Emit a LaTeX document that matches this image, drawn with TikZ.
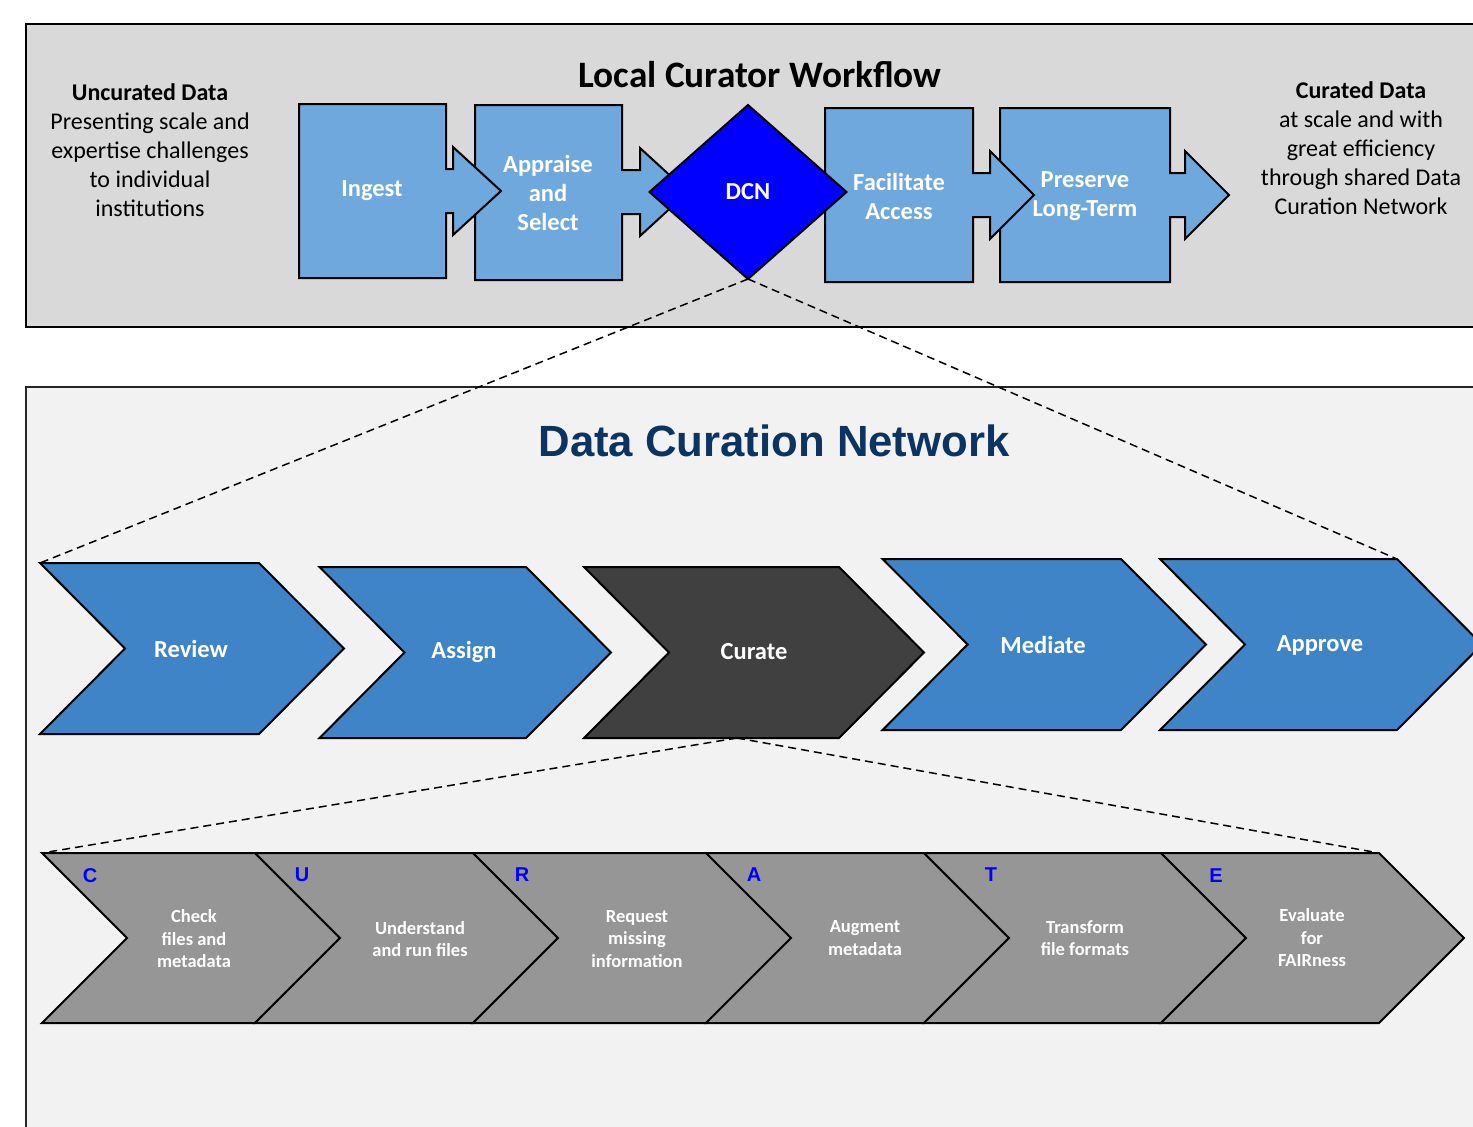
\documentclass[tikz,border=0pt]{standalone}
\usepackage{fontspec}
\setmainfont{Carlito}
\newfontfamily\headfont{Liberation Sans}
\usepackage{tikz}
\usetikzlibrary{shapes.geometric}

\definecolor{topgray}{RGB}{217,217,217}
\definecolor{lowgray}{RGB}{242,242,242}
\definecolor{boxblue}{RGB}{111,168,220}
\definecolor{stepblue}{RGB}{62,132,198}
\definecolor{curategray}{RGB}{64,64,64}
\definecolor{subgray}{RGB}{150,150,150}
\definecolor{dcnnavy}{RGB}{12,52,96}

% rectangle with an arrow tab on its right side
\newcommand{\tabbox}[7]{%
  \draw[blockline, fill=boxblue] (#1,#2) -- (#3,#2) -- (#3,{#7-22}) -- (#5,{#7-22}) -- (#5,{#7-44})
    -- (#6,#7) -- (#5,{#7+44}) -- (#5,{#7+22}) -- (#3,{#7+22}) -- (#3,#4) -- (#1,#4) -- cycle;}
% chevron: left x, top y, right x, bottom y
\newcommand{\chevronpath}[5]{%
  \draw[#1] (#2,#3) -- (#4,#3) -- ({#4+85},{(#3+#5)/2}) -- (#4,#5) -- (#2,#5)
    -- ({#2+85},{(#3+#5)/2}) -- cycle;}

\begin{document}
\begin{tikzpicture}[x=1pt, y=-1pt,
  blockline/.style={draw=black, line width=2pt},
  blocktext/.style={text=white, font=\bfseries\fontsize{24.5}{29}\selectfont, align=center},
  steptext/.style={text=white, font=\bfseries\fontsize{24.5}{28}\selectfont},
  subtext/.style={text=white, font=\bfseries\fontsize{18.5}{22.5}\selectfont, align=center},
  letter/.style={text=blue, font=\headfont\bfseries\fontsize{20}{20}\selectfont},
  sidetext/.style={text=black, font=\fontsize{24}{29}\selectfont, align=center},
  zoomline/.style={draw=black, dash pattern=on 8pt off 5pt, line width=1.5pt}]
  \useasboundingbox (0,0) rectangle (1473,1127);
  \clip (0,0) rectangle (1473,1127);
  \fill[white] (0,0) rectangle (1473,1127);

  % frames
  \draw[fill=topgray, line width=2pt] (26,24) rectangle (1495,327);
  \draw[fill=lowgray, draw=black!85, line width=1.5pt] (26,387) rectangle (1495,1145);

  % local workflow
  \node[font=\bfseries\fontsize{37.3}{40}\selectfont] (localtitle) at (760,75) {Local Curator Workflow};
  \node[sidetext] (uncurated) at (150,150) {\textbf{Uncurated Data}\\Presenting scale and\\expertise challenges\\to individual\\institutions};
  \node[sidetext] (curated) at (1361,148) {\textbf{Curated Data}\\at scale and with\\great efficiency\\through shared Data\\Curation Network};

  \tabbox{1000}{108}{1170}{282}{1185}{1229}{195}
  \tabbox{825}{108}{973}{282}{990}{1034}{195}
  \tabbox{475}{105}{622}{280}{640}{688}{192}
  \tabbox{299}{104}{446}{278}{453}{501}{191}
  \node[blocktext] (ingest) at (372,191) {Ingest};
  \node[blocktext] (appraise) at (548,193) {Appraise\\and\\Select};
  \node[blocktext] (facilitate) at (899,196) {Facilitate\\Access};
  \node[blocktext] (preserve) at (1085,196) {Preserve\\Long-Term};
  \node[diamond, blockline, fill=blue, minimum width=197pt, minimum height=174pt, inner sep=0pt,
    outer sep=0pt, blocktext] (dcn) at (748,192) {DCN};

  % network steps
  \node[font=\headfont\bfseries\fontsize{43.7}{48}\selectfont, text=dcnnavy] (dcntitle) at (774,441) {Data Curation Network};

  \coordinate (reviewcorner) at (40,563);
  \coordinate (approvecorner) at (1397,559);
  \coordinate (curatebottom) at (737,738);
  \coordinate (checkcorner) at (42,853);
  \coordinate (evaluatecorner) at (1379,853);
  \draw[zoomline] (dcn.south) -- (reviewcorner);
  \draw[zoomline] (dcn.south) -- (approvecorner);
  \draw[zoomline] (curatebottom) -- (checkcorner);
  \draw[zoomline] (curatebottom) -- (evaluatecorner);

  \chevronpath{blockline, fill=stepblue}{40}{563}{259}{734}
  \chevronpath{blockline, fill=stepblue}{319.5}{567}{526}{738}
  \chevronpath{blockline, fill=curategray}{584}{567}{839}{738}
  \chevronpath{blockline, fill=stepblue}{882.6}{559}{1121}{730}
  \chevronpath{blockline, fill=stepblue}{1160}{559}{1397}{730}
  \node[steptext] (review) at (191,649) {Review};
  \node[steptext] (assign) at (464,652) {Assign};
  \node[steptext] (curate) at (754,652) {Curate};
  \node[steptext] (mediate) at (1043,645) {Mediate};
  \node[steptext] (approve) at (1320,645) {Approve};

  % CURATE steps
  \chevronpath{blockline, fill=subgray}{42}{853}{255}{1023}
  \chevronpath{blockline, fill=subgray}{255}{853}{473}{1023}
  \chevronpath{blockline, fill=subgray}{473}{853}{707}{1023}
  \chevronpath{blockline, fill=subgray}{706}{853}{924}{1023}
  \chevronpath{blockline, fill=subgray}{924}{853}{1161}{1023}
  \chevronpath{blockline, fill=subgray}{1161}{853}{1379}{1023}
  \node[letter] (c) at (90,876) {C};
  \node[letter] (u) at (302,875) {U};
  \node[letter] (r) at (522,875) {R};
  \node[letter] (a) at (754,875) {A};
  \node[letter] (t) at (991,875) {T};
  \node[letter] (e) at (1216,876) {E};
  \node[subtext] (check) at (194,939) {Check\\files and\\metadata};
  \node[subtext] (understand) at (420,939) {Understand\\and run files};
  \node[subtext] (request) at (637,939) {Request\\missing\\information};
  \node[subtext] (augment) at (865,938) {Augment\\metadata};
  \node[subtext] (transform) at (1085,938) {Transform\\file formats};
  \node[subtext] (evaluate) at (1312,938) {Evaluate\\for\\FAIRness};
\end{tikzpicture}
\end{document}
